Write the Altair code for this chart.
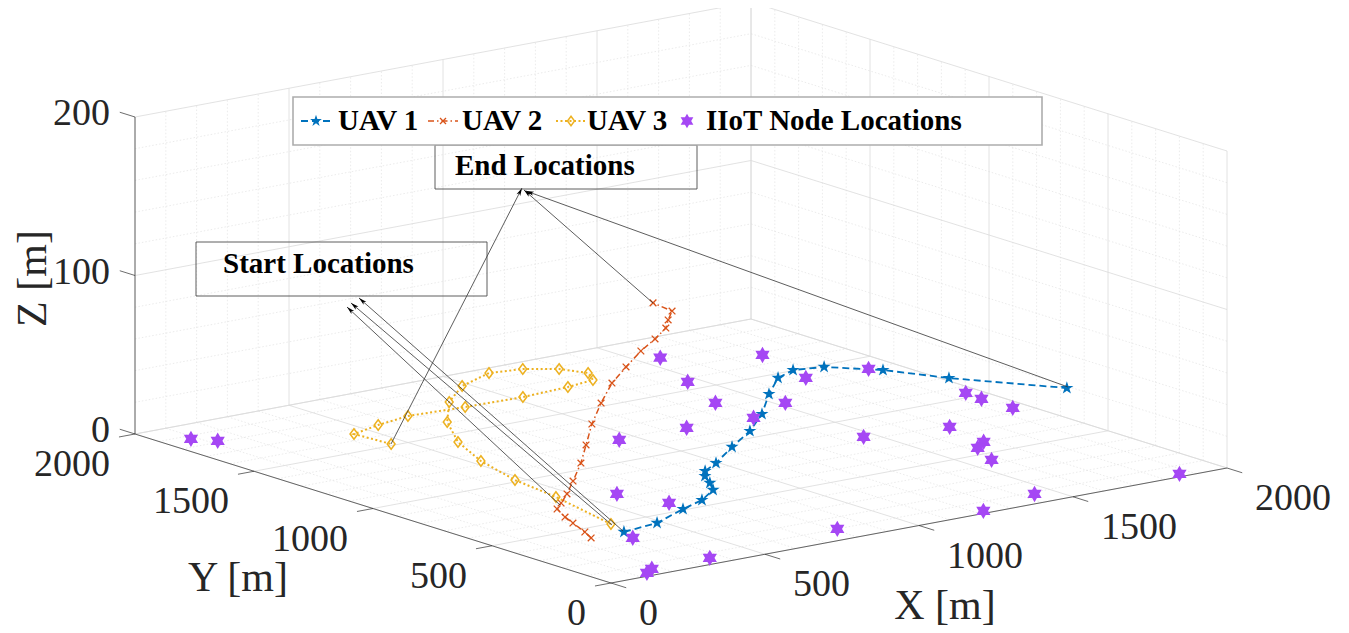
import altair as alt
import pandas as pd

# ---------------- data (metres) ----------------
UAV1_X = [49, 175, 318, 415, 503, 542, 577, 610, 684, 821, 961, 1096, 1240, 1363, 1445, 1528, 1628, 1710, 1885]
UAV1_Y = [9, 33, 109, 155, 222, 286, 352, 394, 444, 554, 660, 784, 941, 1062, 1105, 1082, 964, 793, 524]
UAV1_Z = [30, 30, 30, 30, 30, 30, 30, 30, 30, 30, 30, 30, 30, 30, 30, 30, 30, 30, 30]

UAV2_X = [5, 31, 65, 88, 124, 171, 242, 338, 471, 599, 747, 902, 1054, 1187, 1321, 1428, 1521, 1578, 1644, 1658]
UAV2_Y = [90, 150, 244, 307, 387, 431, 498, 597, 736, 880, 1047, 1209, 1360, 1473, 1584, 1663, 1738, 1802, 1871, 1969]
UAV2_Z = [24, 24, 24, 24, 24, 24, 24, 24, 24, 24, 24, 24, 24, 24, 24, 24, 24, 24, 24, 24]

UAV3_X = [74, 138, 165, 219, 296, 404, 538, 668, 807, 902, 976, 1009, 973, 877, 720, 538, 363, 244, 136, 147]
UAV3_Y = [96, 410, 617, 830, 1026, 1211, 1376, 1490, 1557, 1538, 1481, 1402, 1335, 1316, 1302, 1309, 1323, 1294, 1256, 1114]
UAV3_Z = [30, 30, 30, 30, 30, 30, 30, 30, 30, 30, 30, 30, 30, 30, 30, 30, 30, 30, 30, 30]

IIOT_X = [1564, 1790, 1463, 1383, 1162, 947, 1729, 1525, 1363, 1463, 591, 639, 338, 812, 364,
          175, 139, 1915, 1957, 1950, 1955, 1703, 1675, 1624, 1574, 1440, 1226, 1865, 82, 124]
IIOT_Y = [1817, 1680, 1571, 1351, 1186, 1191, 1419, 1241, 1165, 832, 740, 583, 346, 100, 56,
          55, 29, 1396, 1042, 967, 842, 781, 602, 561, 438, 84, 22, 25, 1871, 1813]
IIOT_Z = [0, 0, 0, 0, 0, 0, 0, 0, 0, 0, 0, 0, 0, 0, 0, 0, 0, 0, 0, 0, 0, 0, 0, 0, 0, 0, 0, 0, 0, 0]

X_TICKS = [0, 500, 1000, 1500, 2000]
Y_TICKS = [0, 500, 1000, 1500, 2000]
Z_TICKS = [0, 100, 200]
X_LABELS = ["0", "500", "1000", "1500", "2000"]
Y_LABELS = ["0", "500", "1000", "1500", "2000"]
Z_LABELS = ["0", "100", "200"]
AXIS_TITLES = ["X [m]", "Y [m]", "Z [m]"]
LEGEND_LABELS = ["UAV 1", "UAV 2", "UAV 3", "IIoT Node Locations"]
ANNOT_TEXTS = ["Start Locations", "End Locations"]

# ---------------- view / layout ----------------
OX, OY = 611, 583                 # screen position of (0,0,0)
XX, XY = 0.308, -0.0575           # screen shift per metre of X
YX, YY = -0.238, -0.0745          # screen shift per metre of Y
ZY = -1.585                       # screen shift per metre of Z
XMAX, YMAX, ZMAX = 2000, 2000, 200
W, H = 1333, 625
XS = alt.Scale(domain=[8, 8 + W], nice=False, zero=False)
YS = alt.Scale(domain=[8, 8 + H], nice=False, zero=False, reverse=True)
FONT = "Liberation Serif"
AX_COL = "#262626"

COL1, COL2, COL3, COL4 = "#0072BD", "#D95319", "#EDB120", "#A547F4"
PENTAGRAM = ("M0,-1L0.2245,-0.309L0.951,-0.309L0.363,0.118L0.588,0.809L0,0.382"
             "L-0.588,0.809L-0.363,0.118L-0.951,-0.309L-0.2245,-0.309Z")
HEXAGRAM = "M0,-1L0.866,0.5L-0.866,0.5Z M0,1L-0.866,-0.5L0.866,-0.5Z"
XMARK = "M-1,-1L1,1M-1,1L1,-1"
DIAMOND = "M0,-1L0.75,0L0,1L-0.75,0Z"
ARROWHEAD = "M0,0L0.42,1.6L0,1.2L-0.42,1.6Z"


def ex_px(x, y):
    return f"{OX} + {XX}*datum.{x} + {YX}*datum.{y}"


def ex_py(x, y, z):
    return f"{OY} + {XY}*datum.{x} + {YY}*datum.{y} + {ZY}*datum.{z}"


def segs(rows):
    return pd.DataFrame(rows, columns=["x1", "y1", "z1", "x2", "y2", "z2"])


def seg_layer(df, **kw):
    return (alt.Chart(df).mark_rule(**kw)
            .transform_calculate(ax=ex_px("x1", "y1"), ay=ex_py("x1", "y1", "z1"),
                                 bx=ex_px("x2", "y2"), by=ex_py("x2", "y2", "z2"))
            .encode(x=alt.X("ax:Q", scale=XS, axis=None), y=alt.Y("ay:Q", scale=YS, axis=None),
                    x2="bx:Q", y2="by:Q"))


# ---------------- grid ----------------
minor_xy = [v for v in range(0, XMAX + 1, 100) if v not in X_TICKS]
minor_z = [v for v in range(0, ZMAX + 1, 20) if v not in Z_TICKS]


def grid_rows(xs, ys, zs):
    rows = []
    for x in xs:
        rows.append((x, 0, 0, x, YMAX, 0))          # floor
        rows.append((x, YMAX, 0, x, YMAX, ZMAX))    # back wall
    for y in ys:
        rows.append((0, y, 0, XMAX, y, 0))          # floor
        rows.append((XMAX, y, 0, XMAX, y, ZMAX))    # right wall
    for z in zs:
        rows.append((0, YMAX, z, XMAX, YMAX, z))
        rows.append((XMAX, 0, z, XMAX, YMAX, z))
    return segs(rows)


grid_minor = seg_layer(grid_rows(minor_xy, minor_xy, minor_z), color="#E2E2E2",
                       strokeWidth=0.7, strokeDash=[1.5, 2])
grid_major = seg_layer(grid_rows(X_TICKS, Y_TICKS, Z_TICKS), color="#DADADA", strokeWidth=0.8)

axis_rows = [(0, 0, 0, XMAX, 0, 0), (0, 0, 0, 0, YMAX, 0), (0, YMAX, 0, 0, YMAX, ZMAX)]
axis_rows += [(x, 0, 0, x, -64, 0) for x in X_TICKS]
axis_rows += [(0, y, 0, -52, y, 0) for y in Y_TICKS]
axis_rows += [(0, YMAX, z, 0, YMAX + 64, z) for z in Z_TICKS]
axes = seg_layer(segs(axis_rows), color=AX_COL, strokeWidth=0.9, opacity=0.75)


def text_layer(df, **kw):
    return (alt.Chart(df).mark_text(font=FONT, color=AX_COL, baseline="middle", **kw)
            .transform_calculate(px=ex_px("x", "y"), py=ex_py("x", "y", "z"))
            .encode(x=alt.X("px:Q", scale=XS, axis=None), y=alt.Y("py:Q", scale=YS, axis=None),
                    text="t:N"))


xl = text_layer(pd.DataFrame({"x": X_TICKS, "y": 0, "z": 0, "t": X_LABELS}),
                align="left", dx=28, dy=31, fontSize=38)
yl = text_layer(pd.DataFrame({"x": 0, "y": Y_TICKS, "z": 0, "t": Y_LABELS}),
                align="right", dx=-25, dy=31, fontSize=38)
zl = text_layer(pd.DataFrame({"x": 0, "y": YMAX, "z": Z_TICKS, "t": Z_LABELS}),
                align="right", dx=-25, dy=-3, fontSize=38)
xt = text_layer(pd.DataFrame({"x": [XMAX / 2], "y": [0], "z": [0], "t": [AXIS_TITLES[0]]}),
                align="center", dx=26, dy=80, fontSize=42)
yt = text_layer(pd.DataFrame({"x": [0], "y": [YMAX / 2], "z": [0], "t": [AXIS_TITLES[1]]}),
                align="center", dx=-135, dy=69, fontSize=42)
# rotated text: offsets are in the text's own (rotated) frame
zt = text_layer(pd.DataFrame({"x": [0], "y": [YMAX], "z": [ZMAX / 2], "t": [AXIS_TITLES[2]]}),
                align="center", dx=-3, dy=-102, fontSize=42, angle=270)


# ---------------- series ----------------
STYLES = [
    dict(color=COL1, dash=[7, 4], width=1.8, shape=PENTAGRAM, size=190, filled=True, sw=0.5),
    dict(color=COL2, dash=[6, 3, 1.5, 3], width=1.5, shape=XMARK, size=45, filled=False, sw=1.3),
    dict(color=COL3, dash=[2, 2.5], width=2.0, shape=DIAMOND, size=110, filled=False, sw=1.5),
    dict(color=COL4, dash=None, width=0, shape=HEXAGRAM, size=270, filled=True, sw=0),
]


def series_layers(xs, ys, zs, st, line=True):
    df = pd.DataFrame({"x": xs, "y": ys, "z": zs, "i": list(range(len(xs)))})
    base = alt.Chart(df).transform_calculate(px=ex_px("x", "y"), py=ex_py("x", "y", "z"))
    enc = dict(x=alt.X("px:Q", scale=XS, axis=None), y=alt.Y("py:Q", scale=YS, axis=None))
    out = []
    if line:
        out.append(base.mark_line(color=st["color"], strokeDash=st["dash"], strokeWidth=st["width"])
                   .encode(order="i:Q", **enc))
    pk = dict(shape=st["shape"], size=st["size"], filled=st["filled"], color=st["color"], opacity=1)
    if st["sw"]:
        pk["strokeWidth"] = st["sw"]
    out.append(base.mark_point(**pk).encode(**enc))
    return out


series = []
series += series_layers(UAV1_X, UAV1_Y, UAV1_Z, STYLES[0])
series += series_layers(UAV2_X, UAV2_Y, UAV2_Z, STYLES[1])
series += series_layers(UAV3_X, UAV3_Y, UAV3_Z, STYLES[2])
series += series_layers(IIOT_X, IIOT_Y, IIOT_Z, STYLES[3], line=False)

# ---------------- annotations (figure pixel positions) ----------------
BOX_X1 = [196, 435]
BOX_X2 = [487, 697]
BOX_Y1 = [242, 145]
BOX_Y2 = [296, 189]
BOX_TX = [223, 455]
BOX_TY = [264, 166]
boxes_df = pd.DataFrame({"x1": BOX_X1, "x2": BOX_X2, "y1": BOX_Y1, "y2": BOX_Y2,
                         "tx": BOX_TX, "ty": BOX_TY, "t": ANNOT_TEXTS})
boxes = alt.Chart(boxes_df).mark_rect(fillOpacity=0, stroke="#4D4D4D", strokeWidth=0.9).encode(
    x=alt.X("x1:Q", scale=XS, axis=None), x2="x2:Q",
    y=alt.Y("y1:Q", scale=YS, axis=None), y2="y2:Q")
box_text = alt.Chart(boxes_df).mark_text(font=FONT, fontWeight="bold", fontSize=29, align="left",
                                         baseline="middle", color="black").encode(
    x=alt.X("tx:Q", scale=XS, axis=None), y=alt.Y("ty:Q", scale=YS, axis=None), text="t:N")

ARROW_TX = [560, 612, 623, 391, 653, 1068]
ARROW_TY = [505, 525, 531, 444, 303, 387]
ARROW_HX = [347, 351, 359, 522, 524, 526]
ARROW_HY = [307, 303, 298, 188, 190, 191]
arr_df = pd.DataFrame({"tx": ARROW_TX, "ty": ARROW_TY, "hx": ARROW_HX, "hy": ARROW_HY})
arrow_lines = alt.Chart(arr_df).mark_rule(color="#333333", strokeWidth=0.8).encode(
    x=alt.X("tx:Q", scale=XS, axis=None), y=alt.Y("ty:Q", scale=YS, axis=None),
    x2="hx:Q", y2="hy:Q")
arrow_heads = (alt.Chart(arr_df)
               .transform_calculate(ang="(atan2(datum.hx - datum.tx, datum.ty - datum.hy) * 180 / PI + 360) % 360")
               .mark_point(shape=ARROWHEAD, size=100, filled=True, color="black", opacity=1)
               .encode(x=alt.X("hx:Q", scale=XS, axis=None), y=alt.Y("hy:Q", scale=YS, axis=None),
                       angle=alt.Angle("ang:Q", scale=None)))

# ---------------- legend ----------------
LEG_BOX = pd.DataFrame({"x1": [293], "x2": [1042], "y1": [97], "y2": [145]})
LEG_Y = 121
LEG_LINE_X1 = [301, 428, 556]
LEG_LINE_X2 = [331, 458, 586]
LEG_MARK_X = [316, 443, 571, 687]
LEG_TEXT_X = [338, 462, 587, 706]

leg_layers = [alt.Chart(LEG_BOX).mark_rect(fill="white", stroke="#ADADAD", strokeWidth=1.6).encode(
    x=alt.X("x1:Q", scale=XS, axis=None), x2="x2:Q",
    y=alt.Y("y1:Q", scale=YS, axis=None), y2="y2:Q")]
for k in range(4):
    st = STYLES[k]
    if k < 3:
        ldf = pd.DataFrame({"a": [LEG_LINE_X1[k]], "b": [LEG_LINE_X2[k]], "y": [LEG_Y]})
        leg_layers.append(alt.Chart(ldf).mark_rule(color=st["color"], strokeDash=st["dash"],
                                                   strokeWidth=st["width"]).encode(
            x=alt.X("a:Q", scale=XS, axis=None), x2="b:Q", y=alt.Y("y:Q", scale=YS, axis=None)))
    mdf = pd.DataFrame({"a": [LEG_MARK_X[k]], "y": [LEG_Y]})
    pk = dict(shape=st["shape"], size=st["size"] * 0.8, filled=st["filled"], color=st["color"], opacity=1)
    if st["sw"]:
        pk["strokeWidth"] = st["sw"]
    leg_layers.append(alt.Chart(mdf).mark_point(**pk).encode(
        x=alt.X("a:Q", scale=XS, axis=None), y=alt.Y("y:Q", scale=YS, axis=None)))
ltdf = pd.DataFrame({"a": LEG_TEXT_X, "y": [LEG_Y] * 4, "t": LEGEND_LABELS})
leg_layers.append(alt.Chart(ltdf).mark_text(font=FONT, fontWeight="bold", fontSize=29, align="left",
                                            baseline="middle", color="black").encode(
    x=alt.X("a:Q", scale=XS, axis=None), y=alt.Y("y:Q", scale=YS, axis=None), text="t:N"))

chart = alt.layer(
    grid_minor, grid_major, axes, xl, yl, zl, xt, yt, zt,
    *series, arrow_lines, arrow_heads, boxes, box_text, *leg_layers
).properties(
    width=W, height=H, padding=0, autosize=alt.AutoSizeParams(type="none"),
    background="white"
).configure_view(stroke=None)

chart.save("out.html", embed_options={"renderer": "svg", "actions": False})
